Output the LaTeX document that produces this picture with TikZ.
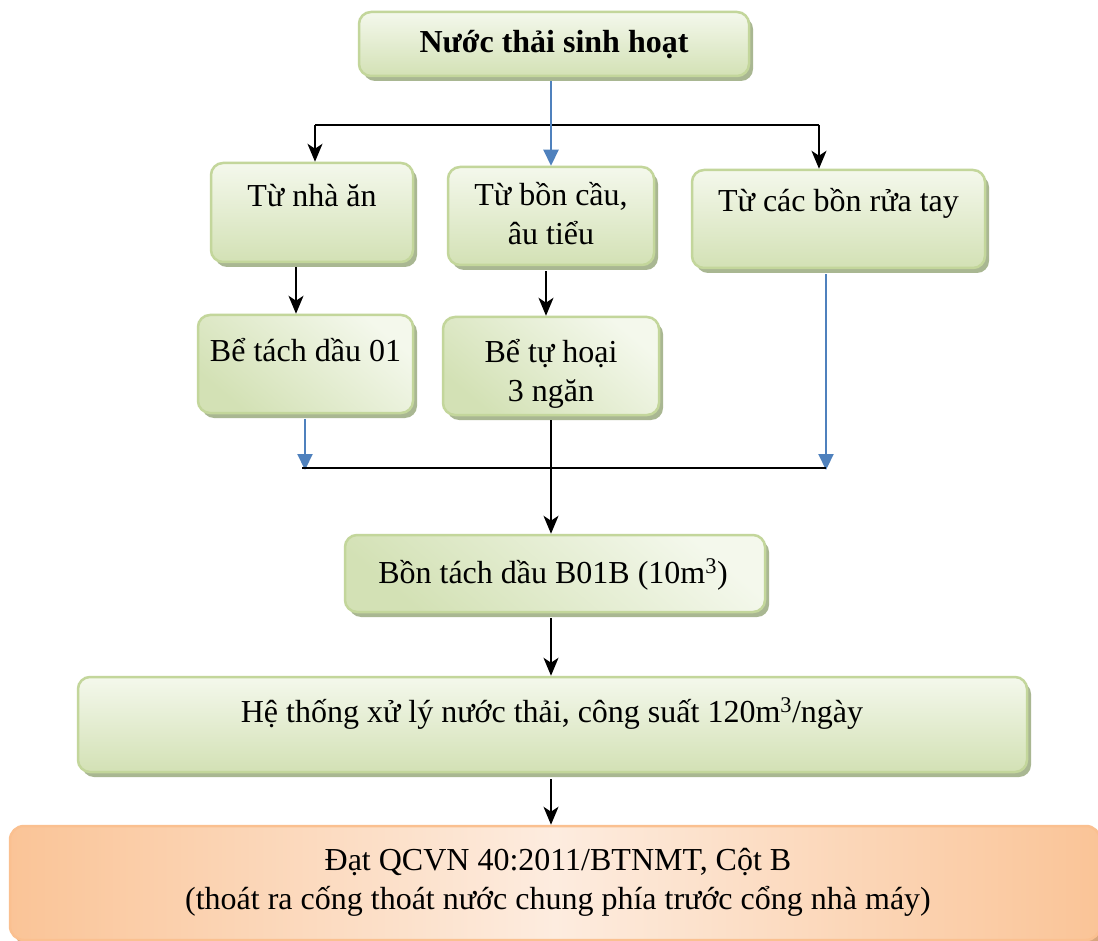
\documentclass[tikz,border=0pt]{standalone}
\usepackage{fontspec}
\setmainfont{Liberation Serif}
\usetikzlibrary{shadows,arrows.meta}
\definecolor{gborder}{HTML}{C3D69B}
\definecolor{gtop}{HTML}{F4F8EC}
\definecolor{gbot}{HTML}{D3E1B5}
\definecolor{gshadow}{HTML}{A9B792}
\definecolor{oborder}{HTML}{FAC090}
\definecolor{oside}{HTML}{FAC497}
\definecolor{omid}{HTML}{FDECDF}
\definecolor{oshadow}{HTML}{D9A67C}
\definecolor{ablue}{HTML}{4F81BD}
\begin{document}
\begin{tikzpicture}[x=1pt,y=-1pt,
  box/.style={draw=gborder,line width=2.5pt,rounded corners=12pt,
    top color=gtop,bottom color=gbot,inner sep=0pt,
    drop shadow={shadow xshift=4pt,shadow yshift=-5pt,fill=gshadow,opacity=1}},
  diagbox/.style={box,shading angle=-40},
  obox/.style={draw=oborder,line width=2.5pt,rounded corners=14pt,
    left color=oside,right color=oside,middle color=omid,inner sep=0pt,
    drop shadow={shadow xshift=4pt,shadow yshift=-5pt,fill=oshadow,opacity=1}},
  txt/.style={font=\fontsize{32}{39}\selectfont,align=center,inner sep=0pt,anchor=base},
  blk/.style={line width=2pt,-{Stealth[length=18pt,width=15pt,inset=5pt]}},
  blu/.style={draw=ablue,line width=2.2pt,-{Triangle[length=16pt,width=15pt]}},
  bus/.style={line width=2.2pt}]
\useasboundingbox[fill=white] (0,0) rectangle (1098,941);

% boxes
\node[box,minimum width=390pt,minimum height=64pt] (top) at (554,44) {};
\node[box,minimum width=202pt,minimum height=99pt] (A) at (312,212.5) {};
\node[box,minimum width=206pt,minimum height=98pt] (B) at (551,216) {};
\node[box,minimum width=293pt,minimum height=98pt] (C) at (838.5,219) {};
\node[diagbox,minimum width=215pt,minimum height=98pt] (D) at (305.5,364) {};
\node[diagbox,minimum width=216pt,minimum height=98pt] (E) at (551,366) {};
\node[diagbox,minimum width=420pt,minimum height=77pt] (F) at (555,573.5) {};
\node[box,minimum width=949pt,minimum height=95pt] (G) at (552.5,724.5) {};
\node[obox,minimum width=1090pt,minimum height=114pt] (H) at (555,883) {};

% labels (base anchor sits on the last line of a multi-line label)
\node[txt,font=\fontsize{32}{39}\selectfont\bfseries] (tTop) at (554,53) {Nước thải sinh hoạt};
\node[txt] (tA) at (312,207) {Từ nhà ăn};
\node[txt] (tB) at (551,245) {Từ bồn cầu,\\âu tiểu};
\node[txt] (tC) at (838.5,212) {Từ các bồn rửa tay};
\node[txt] (tD) at (305.5,362) {Bể tách dầu 01};
\node[txt] (tE) at (551,401) {Bể tự hoại\\3 ngăn};
\node[txt] (tF) at (553,583) {Bồn tách dầu B01B (10m\textsuperscript{3})};
\node[txt] (tG) at (552,722) {Hệ thống xử lý nước thải, công suất 120m\textsuperscript{3}/ngày};
\node[txt] (tH) at (558,909) {Đạt QCVN 40:2011/BTNMT, Cột B\\(thoát ra cống thoát nước chung phía trước cổng nhà máy)};

% junction points
\coordinate (sL) at (315,125);
\coordinate (sR) at (819,125);
\coordinate (xAD) at (296,0);
\coordinate (xBE) at (546,0);
\coordinate (jL) at (302,468);
\coordinate (jR) at (826,468);
\coordinate (xM) at (551,0);

% split below the top box
\draw[bus] (sL) -- (sR);
\draw[blk] (sL) -- (sL |- A.north);
\draw[blk] (sR) -- (sR |- C.north);
\draw[blu] ([yshift=-4pt]top.south -| B.north) -- (B.north);

% first treatment stage
\draw[blk] ([yshift=-4pt]xAD |- A.south) -- (xAD |- D.north);
\draw[blk] ([yshift=-5pt]xBE |- B.south) -- (xBE |- E.north);

% collector line
\draw[blu] ([yshift=-5pt]D.south -| 305,0) -- (305,470);
\draw[blu] ([yshift=-5pt]jR |- C.south) -- ([yshift=-2pt]jR);
\draw[bus] (jL) -- (jR);

% main line down to discharge
\draw[blk] ([yshift=-4pt]xM |- E.south) -- (xM |- F.north);
\draw[blk] ([yshift=-5pt]xM |- F.south) -- (xM |- G.north);
\draw[blk] ([yshift=-6pt]xM |- G.south) -- (xM |- H.north);
\end{tikzpicture}
\end{document}
